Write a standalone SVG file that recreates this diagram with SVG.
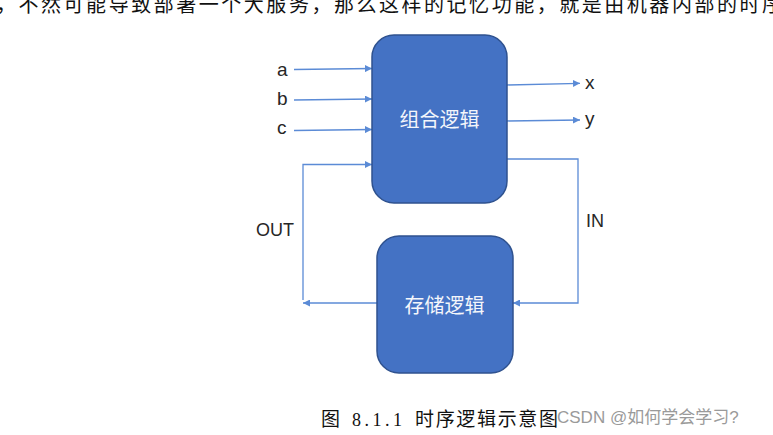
<svg xmlns="http://www.w3.org/2000/svg" width="773" height="435" viewBox="0 0 773 435">
<defs>
<style>
.box{fill:#4472C4;stroke:#2F528F;stroke-width:1.5}
.btxt{fill:#F4F6FB;font-family:"Noto Sans CJK SC","Noto Sans",sans-serif;font-size:20px;text-anchor:middle}
.lbl{fill:#262626;font-family:"Liberation Sans","Noto Sans",sans-serif;font-size:19px}
.ln{fill:none;stroke:#5B8BD6;stroke-width:1.3}
.cap{fill:#111;font-family:"Liberation Serif","Noto Sans CJK SC",serif;font-size:18px}
.capc{fill:#111;font-family:"Noto Sans CJK SC",sans-serif;font-size:19px}
.wm{fill:#9A9A9A;font-family:"Liberation Sans","Noto Sans CJK SC",sans-serif;font-size:17px}
.top{fill:#111;font-family:"Noto Sans CJK SC",sans-serif;font-size:20px}
</style>
<marker id="ah" viewBox="0 0 10 10" refX="10" refY="5" markerWidth="7" markerHeight="7" markerUnits="userSpaceOnUse" orient="auto">
<path d="M0,0 L10,5 L0,10 z" fill="#5B8BD6"/>
</marker>
</defs>
<rect width="773" height="435" fill="#FFFFFF"/>
<text class="top" x="-4" y="12" textLength="786" lengthAdjust="spacing">，不然可能导致部署一个大服务，那么这样的记忆功能，就是由机器内部的时序</text>
<g id="connectors">
<line class="ln" x1="294" y1="69.5" x2="372" y2="68.5" marker-end="url(#ah)"/>
<line class="ln" x1="294" y1="100" x2="372" y2="99" marker-end="url(#ah)"/>
<line class="ln" x1="294" y1="130.5" x2="372" y2="129.5" marker-end="url(#ah)"/>
<polyline class="ln" points="303,300 303,164.5 372,164.5" marker-end="url(#ah)"/>
<line class="ln" x1="507" y1="85" x2="580" y2="83.3" marker-end="url(#ah)"/>
<line class="ln" x1="507" y1="121" x2="580" y2="120" marker-end="url(#ah)"/>
<polyline class="ln" points="507,159 578,159 578,303 513,303" marker-end="url(#ah)"/>
<line class="ln" x1="377" y1="303" x2="303" y2="303" marker-end="url(#ah)"/>
</g>
<g id="node-comb">
<rect class="box" x="372" y="35" width="135" height="168" rx="22"/>
<text class="btxt" x="439.5" y="126.5">组合逻辑</text>
</g>
<g id="node-store">
<rect class="box" x="377" y="236" width="136" height="137" rx="22"/>
<text class="btxt" x="444.5" y="313">存储逻辑</text>
</g>
<g id="labels">
<text class="lbl" x="277" y="76">a</text>
<text class="lbl" x="277" y="105">b</text>
<text class="lbl" x="277" y="134">c</text>
<text class="lbl" x="585" y="89">x</text>
<text class="lbl" x="585" y="125">y</text>
<text class="lbl" x="256" y="236" style="font-size:18px">OUT</text>
<text class="lbl" x="586" y="227" style="font-size:18px">IN</text>
</g>
<g id="caption">
<text class="capc" x="321" y="426">图</text>
<text class="cap" x="352" y="426" textLength="50" lengthAdjust="spacing">8.1.1</text>
<text class="capc" x="415" y="426" textLength="143" lengthAdjust="spacing">时序逻辑示意图</text>
<text class="wm" x="557" y="423">CSDN @如何学会学习?</text>
</g>
</svg>
